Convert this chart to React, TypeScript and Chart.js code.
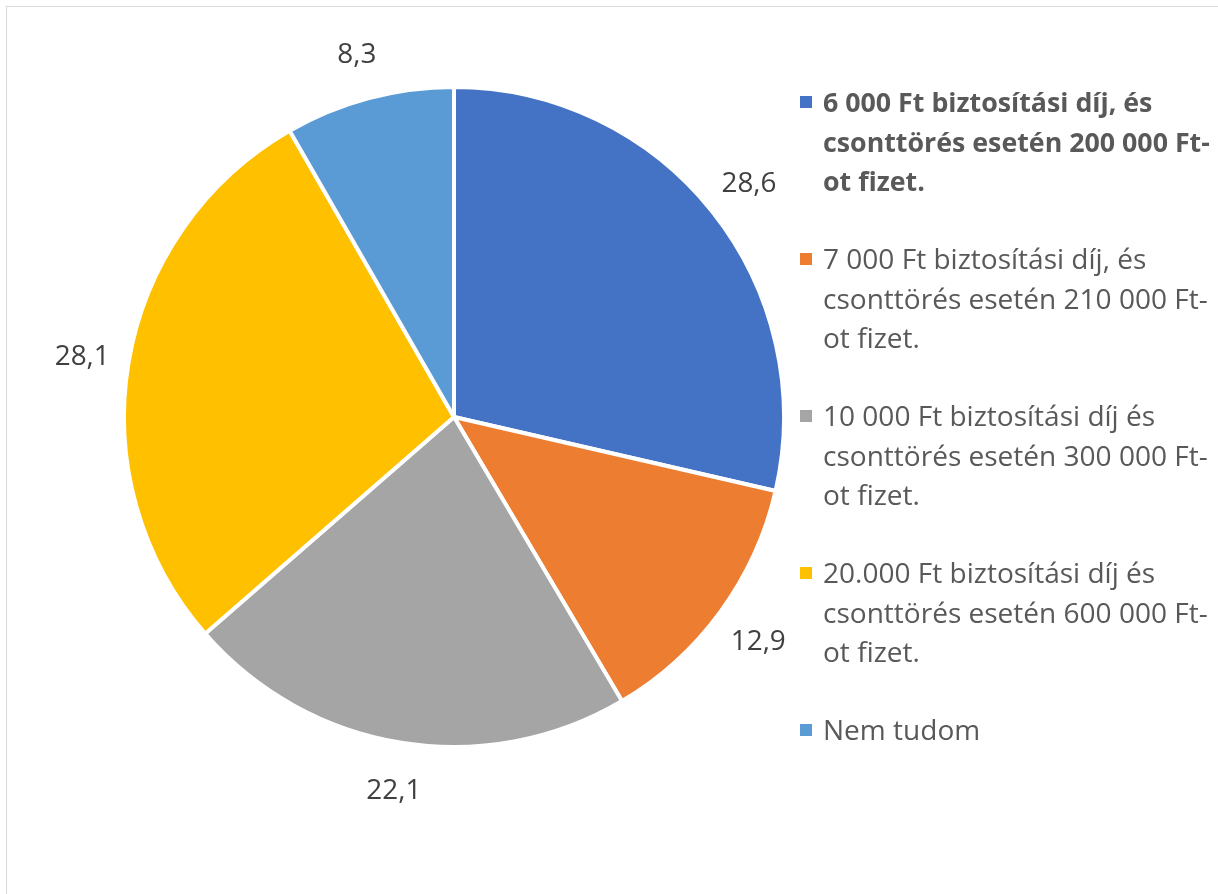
import React, { useEffect, useRef } from "react";
import { Chart, registerables } from "chart.js";

Chart.register(...registerables);

// ---- Data ----
const categories: string[][] = [
  ["6 000 Ft biztosítási díj, és", "csonttörés esetén 200 000 Ft-", "ot fizet."],
  ["7 000 Ft biztosítási díj, és", "csonttörés esetén 210 000 Ft-", "ot fizet."],
  ["10 000 Ft biztosítási díj és", "csonttörés esetén 300 000 Ft-", "ot fizet."],
  ["20.000 Ft biztosítási díj és", "csonttörés esetén 600 000 Ft-", "ot fizet."],
  ["Nem tudom"],
];
const values: number[] = [28.6, 12.9, 22.1, 28.1, 8.3];
const colors: string[] = ["#4472C4", "#ED7D31", "#A5A5A5", "#FFC000", "#5B9BD5"];
const boldItems: boolean[] = [true, false, false, false, false];

const FONT = '"Open Sans", sans-serif';
const W = 1218;
const H = 894;

function fitSize(ctx: CanvasRenderingContext2D, text: string, target: number, weight: string) {
  ctx.font = `${weight} 100px ${FONT}`;
  const w = ctx.measureText(text).width;
  return (100 * target) / w;
}

const formatValue = (v: number) => v.toFixed(1).replace(".", ",");

const outLabelsPlugin = {
  id: "outLabels",
  afterDatasetsDraw(chart: any) {
    const ctx: CanvasRenderingContext2D = chart.ctx;
    const meta = chart.getDatasetMeta(0);
    ctx.save();
    const size = fitSize(ctx, "28,6", 55, "normal");
    ctx.font = `normal ${size}px ${FONT}`;
    ctx.fillStyle = "#404040";
    ctx.textAlign = "center";
    ctx.textBaseline = "alphabetic";
    const capH = ctx.measureText("28").actualBoundingBoxAscent;
    meta.data.forEach((arc: any, i: number) => {
      const p = arc.getProps(["startAngle", "endAngle", "outerRadius", "x", "y"], true);
      const mid = (p.startAngle + p.endAngle) / 2;
      const r = p.outerRadius + 47;
      const cx = p.x + Math.cos(mid) * r;
      const cy = p.y + Math.sin(mid) * r;
      ctx.fillText(formatValue(chart.data.datasets[0].data[i]), cx, cy + capH / 2);
    });
    ctx.restore();
  },
};

const legendPlugin = {
  id: "sideLegend",
  afterDraw(chart: any) {
    const ctx: CanvasRenderingContext2D = chart.ctx;
    const labels: string[][] = chart.data.labels;
    const bg: string[] = chart.data.datasets[0].backgroundColor;
    ctx.save();
    const regSize = fitSize(ctx, "csonttörés esetén 210 000 Ft-", 385, "normal");
    const boldSize = fitSize(ctx, "csonttörés esetén 200 000 Ft-", 387, "bold");
    const x0 = 800;
    const textX = 823;
    const firstBaseline = 112;
    const itemStep = 157;
    const lineStep = 39.5;
    labels.forEach((lines, i) => {
      const base = firstBaseline + i * itemStep;
      ctx.fillStyle = bg[i];
      ctx.fillRect(x0, base - 16, 12, 12);
      const weight = boldItems[i] ? "bold" : "normal";
      const size = boldItems[i] ? boldSize : regSize;
      ctx.font = `${weight} ${size}px ${FONT}`;
      ctx.fillStyle = "#595959";
      ctx.textAlign = "left";
      ctx.textBaseline = "alphabetic";
      lines.forEach((line, j) => {
        ctx.fillText(line, textX, base + j * lineStep);
      });
    });
    ctx.restore();
  },
};

export default function App() {
  const canvasRef = useRef<HTMLCanvasElement | null>(null);

  useEffect(() => {
    const canvas = canvasRef.current;
    if (!canvas) return;
    const chart = new Chart(canvas, {
      type: "pie",
      data: {
        labels: categories,
        datasets: [
          {
            data: values,
            backgroundColor: colors,
            borderColor: "#ffffff",
            borderWidth: 4,
            hoverBorderWidth: 4,
          },
        ],
      },
      options: {
        responsive: false,
        maintainAspectRatio: false,
        animation: false,
        devicePixelRatio: 1,
        radius: 330,
        layout: { padding: { left: 124, right: 434, top: 87, bottom: 147 } },
        plugins: {
          legend: { display: false },
          tooltip: { enabled: false },
        },
        events: [],
      } as any,
      plugins: [outLabelsPlugin, legendPlugin],
    });
    return () => chart.destroy();
  }, []);

  return (
    <div
      style={{
        position: "fixed",
        left: 0,
        top: 0,
        width: W,
        height: H,
        overflow: "hidden",
        background: "#ffffff",
      }}
    >
      <div
        style={{
          position: "absolute",
          left: 6,
          top: 6,
          width: 1400,
          height: 1100,
          border: "1px solid #d9d9d9",
          boxSizing: "border-box",
        }}
      />
      <canvas
        ref={canvasRef}
        width={W}
        height={H}
        style={{ position: "absolute", left: 0, top: 0, width: W, height: H, display: "block" }}
      />
    </div>
  );
}
